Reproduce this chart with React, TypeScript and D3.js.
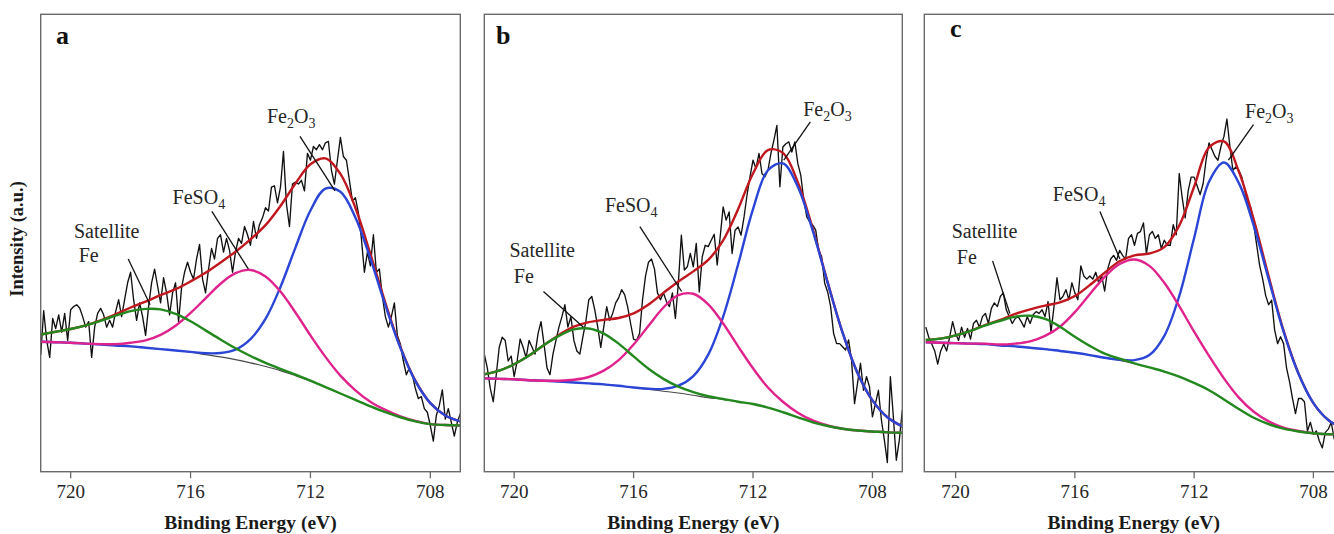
import React from 'react';
import * as d3 from 'd3';

// ---------- DATA (values in % of frame height) ----------
const fitEnergy = [721, 720.5, 720, 719.5, 719, 718.5, 718, 717.5, 717, 716.5, 716, 715.5, 715, 714.5, 714, 713.5, 713, 712.5, 712, 711.5, 711, 710.5, 710, 709.5, 709, 708.5, 708, 707.5, 707];

const rawEnergy = [
  721.0, 720.9, 720.8, 720.7, 720.6, 720.5, 720.4, 720.3, 720.2, 720.1,
  720.0, 719.9, 719.8, 719.7, 719.6, 719.5, 719.4, 719.3, 719.2, 719.1,
  719.0, 718.9, 718.8, 718.7, 718.6, 718.5, 718.4, 718.3, 718.2, 718.1,
  718.0, 717.9, 717.8, 717.7, 717.6, 717.5, 717.4, 717.3, 717.2, 717.1,
  717.0, 716.9, 716.8, 716.7, 716.6, 716.5, 716.4, 716.3, 716.2, 716.1,
  716.0, 715.9, 715.8, 715.7, 715.6, 715.5, 715.4, 715.3, 715.2, 715.1,
  715.0, 714.9, 714.8, 714.7, 714.6, 714.5, 714.4, 714.3, 714.2, 714.1,
  714.0, 713.9, 713.8, 713.7, 713.6, 713.5, 713.4, 713.3, 713.2, 713.1,
  713.0, 712.9, 712.8, 712.7, 712.6, 712.5, 712.4, 712.3, 712.2, 712.1,
  712.0, 711.9, 711.8, 711.7, 711.6, 711.5, 711.4, 711.3, 711.2, 711.1,
  711.0, 710.9, 710.8, 710.7, 710.6, 710.5, 710.4, 710.3, 710.2, 710.1,
  710.0, 709.9, 709.8, 709.7, 709.6, 709.5, 709.4, 709.3, 709.2, 709.1,
  709.0, 708.9, 708.8, 708.7, 708.6, 708.5, 708.4, 708.3, 708.2, 708.1,
  708.0, 707.9, 707.8, 707.7, 707.6, 707.5, 707.4, 707.3, 707.2, 707.1,
  707.0,
];

const xTicks = [720, 716, 712, 708];

// Panel a
const bgA = [28.4, 28.3, 28.2, 28.0, 27.8, 27.6, 27.4, 27.1, 26.8, 26.5, 26.1, 25.6, 25.1, 24.5, 23.8, 23.0, 22.1, 21.0, 19.8, 18.5, 17.1, 15.7, 14.3, 13.0, 11.9, 11.0, 10.4, 10.2, 10.1];
const satA = [1.6, 2.3, 3.0, 4.0, 5.2, 6.5, 7.7, 8.5, 8.7, 8.0, 6.8, 5.3, 3.8, 2.5, 1.5, 0.8, 0.4, 0.2, 0.1, 0, 0, 0, 0, 0, 0, 0, 0, 0, 0];
const feso4A = [0, 0, 0, 0, 0.1, 0.3, 0.8, 1.6, 3.1, 5.4, 8.6, 12.3, 16.0, 18.9, 20.3, 19.7, 17.3, 13.8, 10.0, 6.6, 3.9, 2.1, 1.0, 0.5, 0.2, 0.1, 0, 0, 0];
const fe2o3A = [0, 0, 0, 0, 0, 0, 0, 0, 0, 0, 0.1, 0.3, 0.85, 2.2, 5.2, 10.4, 18.3, 28.0, 37.3, 43.4, 44.1, 39.9, 32.3, 23.4, 15.2, 8.8, 4.6, 2.1, 0.9];
const rawA = [
  25.5, 35.2, 28.7, 25.0, 33.5, 31.3, 34.3, 30.5, 34.6, 28.7,
  35.4, 36.1, 36.5, 35.8, 33.9, 31.6, 32.8, 25.0, 31.6, 34.6,
  35.7, 34.3, 31.6, 33.1, 31.6, 35.0, 37.6, 33.9, 37.6, 41.3,
  43.6, 37.6, 33.1, 36.9, 33.9, 29.8, 36.1, 41.3, 44.3, 40.6,
  36.9, 42.4, 39.1, 34.3, 39.1, 41.3, 32.8, 40.2, 43.6, 45.8,
  43.6, 42.1, 46.5, 49.7, 42.1, 39.1, 44.3, 48.8, 46.5, 51.0,
  51.8, 48.0, 51.0, 48.4, 43.6, 48.0, 51.0, 49.9, 53.6, 51.8,
  49.5, 54.7, 51.0, 54.0, 55.5, 57.7, 57.0, 62.2, 62.5, 58.8,
  62.2, 70.0, 58.5, 53.6, 62.9, 63.3, 62.9, 63.7, 61.4, 69.6,
  68.1, 71.1, 70.4, 71.5, 70.4, 71.9, 72.2, 65.9, 62.9, 68.1,
  73.1, 68.9, 68.1, 63.7, 59.2, 59.9, 56.6, 51.0, 43.6, 48.0,
  45.0, 51.8, 43.6, 44.3, 38.3, 33.9, 31.6, 33.9, 36.9, 29.8,
  27.9, 24.2, 21.2, 22.7, 21.2, 18.2, 16.0, 16.4, 13.8, 13.0,
  10.1, 6.7, 12.3, 14.5, 17.9, 11.5, 13.8, 10.8, 7.8, 10.8,
  12.7,
];

// Panel b
const bgB = [20.4, 20.3, 20.2, 20.0, 19.9, 19.7, 19.5, 19.3, 19.1, 18.8, 18.4, 18.0, 17.6, 17.2, 16.7, 16.2, 15.8, 15.3, 14.8, 14.0, 13.0, 11.9, 10.8, 10.0, 9.4, 9.0, 8.8, 8.6, 8.5];
const satB = [0.9, 1.8, 3.3, 5.4, 7.8, 10.0, 11.6, 12.0, 11.1, 9.2, 6.8, 4.5, 2.7, 1.4, 0.7, 0.3, 0.1, 0, 0, 0, 0, 0, 0, 0, 0, 0, 0, 0, 0];
const feso4B = [0, 0, 0, 0, 0, 0.2, 0.6, 1.4, 3.0, 5.6, 9.4, 13.9, 18.3, 21.4, 22.2, 20.4, 16.6, 12.1, 7.8, 4.4, 2.3, 1.0, 0.4, 0.1, 0, 0, 0, 0, 0];
const fe2o3B = [0, 0, 0, 0, 0, 0, 0, 0, 0, 0, 0, 0.15, 0.5, 1.6, 4.2, 9.4, 18.1, 30.0, 42.6, 51.9, 54.4, 50.4, 41.9, 31.3, 21.0, 12.6, 6.8, 3.3, 1.4];
const rawB = [
  25.7, 22.7, 18.2, 15.3, 21.2, 27.2, 29.4, 28.7, 24.2, 25.3,
  20.8, 24.2, 29.0, 27.2, 24.9, 28.7, 27.2, 25.7, 30.2, 32.8,
  27.9, 22.7, 21.2, 25.7, 28.7, 31.6, 33.9, 36.5, 31.6, 33.9,
  28.7, 26.4, 25.7, 29.4, 32.8, 37.6, 38.3, 35.4, 31.6, 27.2,
  31.6, 36.1, 33.1, 34.6, 36.9, 38.0, 39.8, 38.7, 36.1, 32.4,
  29.0, 28.7, 30.2, 37.6, 42.8, 45.8, 46.5, 44.3, 39.1, 37.6,
  39.1, 37.2, 36.1, 39.1, 33.5, 41.3, 51.7, 44.1, 44.8, 47.7,
  44.8, 49.9, 39.3, 47.0, 49.5, 49.2, 50.6, 51.9, 45.2, 51.3,
  57.9, 55.0, 56.8, 47.7, 52.8, 53.5, 51.7, 55.7, 60.5, 64.5,
  68.1, 66.3, 69.6, 65.2, 64.5, 65.9, 69.6, 72.5, 75.7, 62.3,
  71.0, 71.7, 72.1, 69.9, 72.1, 67.4, 64.8, 59.4, 55.7, 54.6,
  53.9, 52.8, 48.4, 47.0, 41.2, 39.3, 36.1, 30.2, 28.0, 28.0,
  27.3, 26.6, 28.8, 24.4, 14.9, 19.3, 23.7, 17.8, 20.8, 18.6,
  12.0, 14.9, 17.8, 11.3, 6.9, 2.0, 20.8, 12.0, 2.5, 6.9,
  13.5,
];

// Panel c
const bgC = [28.3, 28.2, 28.1, 28.0, 27.9, 27.6, 27.4, 27.1, 26.8, 26.4, 26.0, 25.5, 24.9, 24.3, 23.6, 22.8, 21.9, 20.8, 19.4, 17.8, 15.8, 13.7, 11.8, 10.4, 9.4, 8.8, 8.4, 8.2, 8.1];
const satC = [0.5, 0.9, 1.7, 2.8, 4.1, 5.4, 6.5, 7.0, 6.6, 5.3, 3.5, 2.0, 0.9, 0.4, 0.1, 0, 0, 0, 0, 0, 0, 0, 0, 0, 0, 0, 0, 0, 0];
const feso4C = [0, 0, 0, 0, 0.1, 0.2, 0.6, 1.4, 2.9, 5.3, 8.9, 13.3, 17.7, 21.1, 22.8, 22.2, 19.4, 15.4, 11.2, 7.5, 4.6, 2.5, 1.3, 0.6, 0.25, 0.1, 0, 0, 0];
const fe2o3C = [0, 0, 0, 0, 0, 0, 0, 0, 0, 0, 0, 0, 0, 0.2, 0.8, 2.7, 7.8, 17.6, 31.7, 45.6, 51.8, 49.4, 42.0, 31.7, 21.2, 12.6, 6.6, 3.1, 1.3];
const rawC = [
  31.6, 29.4, 27.9, 26.4, 23.5, 26.4, 27.9, 26.4, 29.4, 32.8,
  30.2, 28.7, 31.6, 29.4, 31.3, 29.0, 32.4, 33.1, 31.6, 33.9,
  34.6, 32.4, 35.7, 36.9, 36.1, 38.3, 39.1, 35.4, 33.9, 32.4,
  33.5, 33.9, 32.8, 31.6, 33.9, 32.4, 34.3, 35.0, 34.6, 35.4,
  33.9, 37.2, 30.5, 36.1, 42.4, 37.6, 38.3, 39.8, 37.6, 41.3,
  39.1, 37.6, 45.0, 42.8, 42.1, 42.8, 42.1, 43.6, 41.3, 42.8,
  39.5, 44.3, 46.5, 47.3, 46.2, 48.4, 47.3, 46.5, 51.0, 51.8,
  49.5, 52.1, 52.5, 54.4, 47.7, 51.8, 52.5, 51.0, 51.8, 48.8,
  50.6, 49.5, 49.5, 54.0, 51.8, 65.2, 59.9, 55.5, 61.4, 64.4,
  64.4, 62.5, 60.6, 62.9, 68.1, 71.9, 70.4, 68.9, 68.1, 71.1,
  73.3, 77.1, 71.1, 65.9, 66.6, 65.9, 64.4, 61.4, 58.5, 57.7,
  54.0, 49.5, 45.0, 42.1, 38.5, 36.5, 37.5, 31.0, 28.0, 29.5,
  28.0, 22.7, 19.7, 16.0, 12.7, 16.0, 16.0, 15.3, 8.9, 10.8,
  8.2, 8.9, 6.7, 5.2, 8.6, 9.3, 10.8, 7.1, 6.3, 7.8,
  8.6,
];

// Annotation anchors in data units: [energy, intensity]
const letterPos = [[720.49, 93.4], [720.61, 93.6], [720.19, 95.1]];
const fe2o3Text = [[713.45, 76.2], [710.32, 77.8], [710.29, 77.4]];
const fe2o3Lead = [[712.35, 73.3, 711.18, 61.4], [710.08, 76.5, 710.97, 68.1], [710.01, 75.9, 710.85, 68.1]];
const feso4Text = [[716.6, 58.6], [716.96, 56.8], [716.74, 59.2]];
const feso4Lead = [[715.29, 56.9, 714.07, 44.3], [715.79, 53.6, 714.39, 39.4], [715.16, 56.9, 714.49, 46.5]];
const satText = [[719.89, 51.2], [720.16, 46.9], [720.13, 51.0]];
const satFeText = [[719.73, 45.9], [720.01, 41.3], [719.96, 45.4]];
const satLead = [[718.08, 46.5, 717.35, 36.5], [719.02, 39.4, 717.68, 31.6], [718.76, 46.1, 718.18, 34.6]];
const panelLetters = ['a', 'b', 'c'];

// ---------- LAYOUT / STYLE ----------
const W = 1334;
const H = 534;
const TOP = 14.3;
const BOTTOM = 471.7;
const frames = [
  { x0: 40.7, x1: 460.3, dom: [721, 707] },
  { x0: 484.3, x1: 902.3, dom: [721, 707] },
  { x0: 924.3, x1: 1343.2, dom: [721.05, 707] },
];
const SERIF = '"Liberation Serif", "Times New Roman", Times, serif';
const C_RED = '#c0181e';
const C_BLUE = '#2b45d6';
const C_MAG = '#e0228c';
const C_GREEN = '#23891f';
const C_BG = '#4a4a4a';
const C_FRAME = '#6a6a6a';

const panelSeries = [
  { bg: bgA, sat: satA, feso4: feso4A, fe2o3: fe2o3A, raw: rawA },
  { bg: bgB, sat: satB, feso4: feso4B, fe2o3: fe2o3B, raw: rawB },
  { bg: bgC, sat: satC, feso4: feso4C, fe2o3: fe2o3C, raw: rawC },
];

const yScale = d3.scaleLinear().domain([0, 100]).range([BOTTOM, TOP]);

function Panel({ i }: { i: number }) {
  const f = frames[i];
  const s = panelSeries[i];
  const x = d3.scaleLinear().domain(f.dom).range([f.x0, f.x1]);
  const smooth = d3
    .line<[number, number]>()
    .x((d) => x(d[0]))
    .y((d) => yScale(d[1]))
    .curve(d3.curveCatmullRom.alpha(0.5));
  const straight = d3
    .line<[number, number]>()
    .x((d) => x(d[0]))
    .y((d) => yScale(d[1]));

  const bgPts = fitEnergy.map((e, k) => [e, s.bg[k]] as [number, number]);
  const satPts = fitEnergy.map((e, k) => [e, s.bg[k] + s.sat[k]] as [number, number]);
  const fesPts = fitEnergy.map((e, k) => [e, s.bg[k] + s.feso4[k]] as [number, number]);
  const feoPts = fitEnergy.map((e, k) => [e, s.bg[k] + s.fe2o3[k]] as [number, number]);
  const envPts = fitEnergy.map(
    (e, k) => [e, s.bg[k] + s.sat[k] + s.feso4[k] + s.fe2o3[k]] as [number, number]
  );
  const rawPts = rawEnergy.map((e, k) => [e, s.raw[k]] as [number, number]);
  const clipId = `clip-${i}`;
  const cx = (f.x0 + f.x1) / 2;

  const lab = { fontFamily: SERIF, fontSize: 20, fill: '#262626' } as const;
  const sub = { fontSize: 14 } as const;

  return (
    <g>
      <defs>
        <clipPath id={clipId}>
          <rect x={f.x0} y={TOP} width={f.x1 - f.x0} height={BOTTOM - TOP} />
        </clipPath>
      </defs>
      <g clipPath={`url(#${clipId})`} fill="none" strokeLinejoin="round">
        <path d={straight(rawPts) || ''} stroke="#111" strokeWidth={1.35} />
        <path d={smooth(bgPts) || ''} stroke={C_BG} strokeWidth={1.1} />
        <path d={smooth(envPts) || ''} stroke={C_RED} strokeWidth={2.4} />
        <path d={smooth(feoPts) || ''} stroke={C_BLUE} strokeWidth={2.4} />
        <path d={smooth(fesPts) || ''} stroke={C_MAG} strokeWidth={2.4} />
        <path d={smooth(satPts) || ''} stroke={C_GREEN} strokeWidth={2.4} />
      </g>
      {/* frame */}
      <rect
        x={f.x0}
        y={TOP}
        width={f.x1 - f.x0}
        height={BOTTOM - TOP}
        fill="none"
        stroke={C_FRAME}
        strokeWidth={1.4}
      />
      {/* ticks */}
      {xTicks.map((t) => (
        <g key={t}>
          <line x1={x(t)} x2={x(t)} y1={BOTTOM} y2={BOTTOM + 6.5} stroke={C_FRAME} strokeWidth={1.3} />
          <text
            x={x(t)}
            y={498}
            textAnchor="middle"
            fontFamily={SERIF}
            fontSize={19}
            fill="#262626"
          >
            {t}
          </text>
        </g>
      ))}
      <text
        x={cx}
        y={529}
        textAnchor="middle"
        fontFamily={SERIF}
        fontWeight="bold"
        fontSize={19.5}
        fill="#1a1a1a"
      >
        Binding Energy (eV)
      </text>
      {/* panel letter */}
      <text
        x={x(letterPos[i][0])}
        y={yScale(letterPos[i][1])}
        fontFamily={SERIF}
        fontWeight="bold"
        fontSize={26}
        fill="#111"
      >
        {panelLetters[i]}
      </text>
      {/* annotations */}
      <text x={x(fe2o3Text[i][0])} y={yScale(fe2o3Text[i][1])} {...lab}>
        Fe
        <tspan dy={5} {...sub}>2</tspan>
        <tspan dy={-5}>O</tspan>
        <tspan dy={5} {...sub}>3</tspan>
      </text>
      <line
        x1={x(fe2o3Lead[i][0])}
        y1={yScale(fe2o3Lead[i][1])}
        x2={x(fe2o3Lead[i][2])}
        y2={yScale(fe2o3Lead[i][3])}
        stroke="#111"
        strokeWidth={1.3}
      />
      <text x={x(feso4Text[i][0])} y={yScale(feso4Text[i][1])} {...lab}>
        FeSO
        <tspan dy={5} {...sub}>4</tspan>
      </text>
      <line
        x1={x(feso4Lead[i][0])}
        y1={yScale(feso4Lead[i][1])}
        x2={x(feso4Lead[i][2])}
        y2={yScale(feso4Lead[i][3])}
        stroke="#111"
        strokeWidth={1.3}
      />
      <text x={x(satText[i][0])} y={yScale(satText[i][1])} {...lab}>
        Satellite
      </text>
      <text x={x(satFeText[i][0])} y={yScale(satFeText[i][1])} {...lab}>
        Fe
      </text>
      <line
        x1={x(satLead[i][0])}
        y1={yScale(satLead[i][1])}
        x2={x(satLead[i][2])}
        y2={yScale(satLead[i][3])}
        stroke="#111"
        strokeWidth={1.3}
      />
    </g>
  );
}

export default function App() {
  return (
    <svg
      width={W}
      height={H}
      viewBox={`0 0 ${W} ${H}`}
      style={{ position: 'absolute', left: 0, top: 0, background: '#fff' }}
    >
      <rect x={0} y={0} width={W} height={H} fill="#fff" />
      <text
        transform={`translate(23, 239) rotate(-90)`}
        textAnchor="middle"
        fontFamily={SERIF}
        fontWeight="bold"
        fontSize={18.5}
        fill="#1a1a1a"
      >
        Intensity (a.u.)
      </text>
      {[0, 1, 2].map((i) => (
        <Panel key={i} i={i} />
      ))}
    </svg>
  );
}
